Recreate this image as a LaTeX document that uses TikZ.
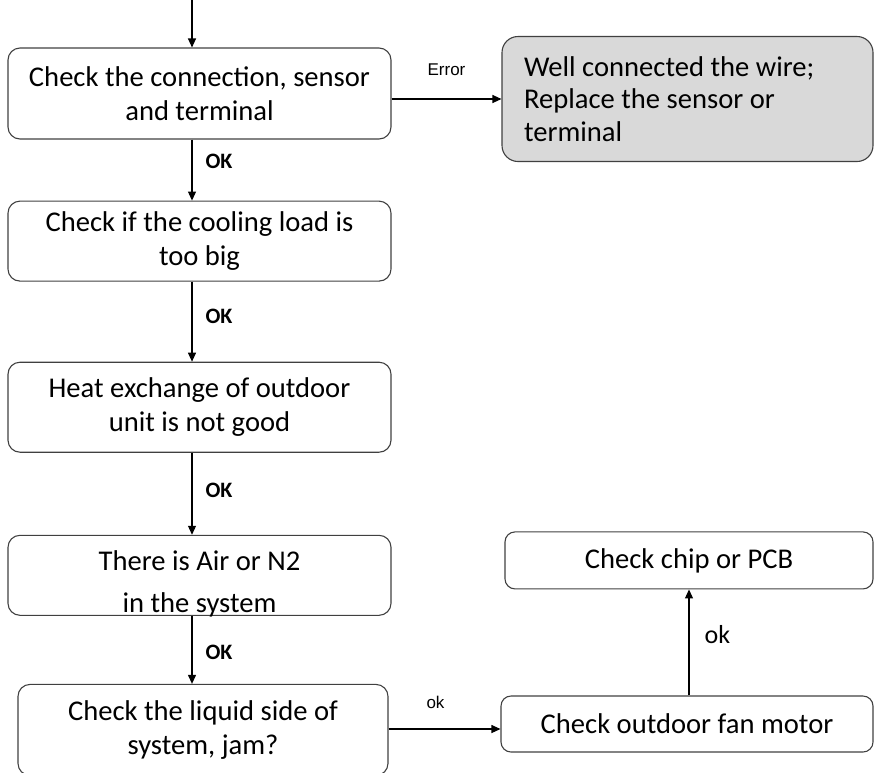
\documentclass[tikz,border=0pt]{standalone}
\usepackage{fontspec}
\setmainfont{Carlito}
\newfontfamily\arialfont{Liberation Sans}
\usepackage{tikz}
\usetikzlibrary{positioning}
\usetikzlibrary{arrows.meta}
\definecolor{boxline}{RGB}{64,64,64}
\definecolor{fixgray}{RGB}{217,217,217}
\tikzstyle{process} = [rectangle, rounded corners=12pt, minimum width=383pt, text centered, align=center, draw=boxline, line width=1.1pt, inner sep=0pt, font=\fontsize{28.6}{34}\selectfont]
\tikzstyle{fix} = [process, rounded corners=16pt, fill=fixgray, align=flush left, text width=327pt, minimum width=371pt, minimum height=125pt, font=\fontsize{28.6}{32.5}\selectfont]
\tikzstyle{arrow} = [line width=1.1pt, ->, >={Triangle[length=9pt,width=8pt]}]
\tikzstyle{oklabel} = [inner sep=0pt, font=\bfseries\fontsize{22}{26}\selectfont]
\tikzstyle{smalllabel} = [inner sep=0pt, font=\arialfont\fontsize{17}{20}\selectfont]

\begin{document}
\begin{tikzpicture}[node distance=61pt]
        \useasboundingbox (0pt,0pt) rectangle (874pt,-772pt);
        \coordinate (top) at (192pt,0pt);
        \node (check) [process, minimum height=91pt] at (199.5pt,-93.5pt) {Check the connection, sensor\\and terminal};
        \node (load) [process, minimum height=80pt, below=61pt of check] {Check if the cooling load is\\too big};
        \node (heat) [process, minimum height=90pt, below=80pt of load] {Heat exchange of outdoor\\unit is not good};
        \node (air) [process, minimum height=80pt, below=82pt of heat] {};
        \node (airtext) [align=center, inner sep=0pt, font=\fontsize{28.6}{34}\selectfont] at ([yshift=-9pt]air.center) {There is Air or N2\\[8pt]in the system};
        \node (liquid) [process, minimum width=370pt, minimum height=91pt, below=68pt of air, xshift=3.5pt] {Check the liquid side of\\system, jam?};
        \node (wire) [fix] at (687.5pt,-99pt) {Well connected the wire;\\Replace the sensor or\\terminal};
        \node (fan) [process, rounded corners=10pt, minimum width=372pt, minimum height=56pt] at (687pt,-724pt) {Check outdoor fan motor};
        \node (chip) [process, rounded corners=10pt, minimum width=368pt, minimum height=57pt, above=106pt of fan, xshift=2pt] {Check chip or PCB};

        \draw [arrow] (top) -- (top |- check.north);
        \draw [arrow] (top |- check.south) -- node (ok1) [oklabel, right=13pt, pos=0.35] {OK} (top |- load.north);
        \draw [arrow] (top |- load.south) -- node (ok2) [oklabel, right=13pt, pos=0.44] {OK} (top |- heat.north);
        \draw [arrow] (top |- heat.south) -- node (ok3) [oklabel, right=13pt, pos=0.46] {OK} (top |- air.north);
        \draw [arrow] (top |- air.south) -- node (ok4) [oklabel, right=13pt, pos=0.53] {OK} (top |- liquid.north);
        \draw [arrow] (check.east |- wire.west) -- node (error) [smalllabel, above=23pt] {Error} (wire.west);
        \draw [arrow] ([yshift=-5pt]fan.west -| liquid.east) -- node (ok5) [smalllabel, above=20pt, xshift=-9pt] {ok} ([yshift=-5pt]fan.west);
        \draw [arrow] (chip.south |- fan.north) -- node (ok6) [inner sep=0pt, font=\fontsize{26}{30}\selectfont, right=15pt, pos=0.575] {ok} (chip.south);
    \end{tikzpicture}
\end{document}
